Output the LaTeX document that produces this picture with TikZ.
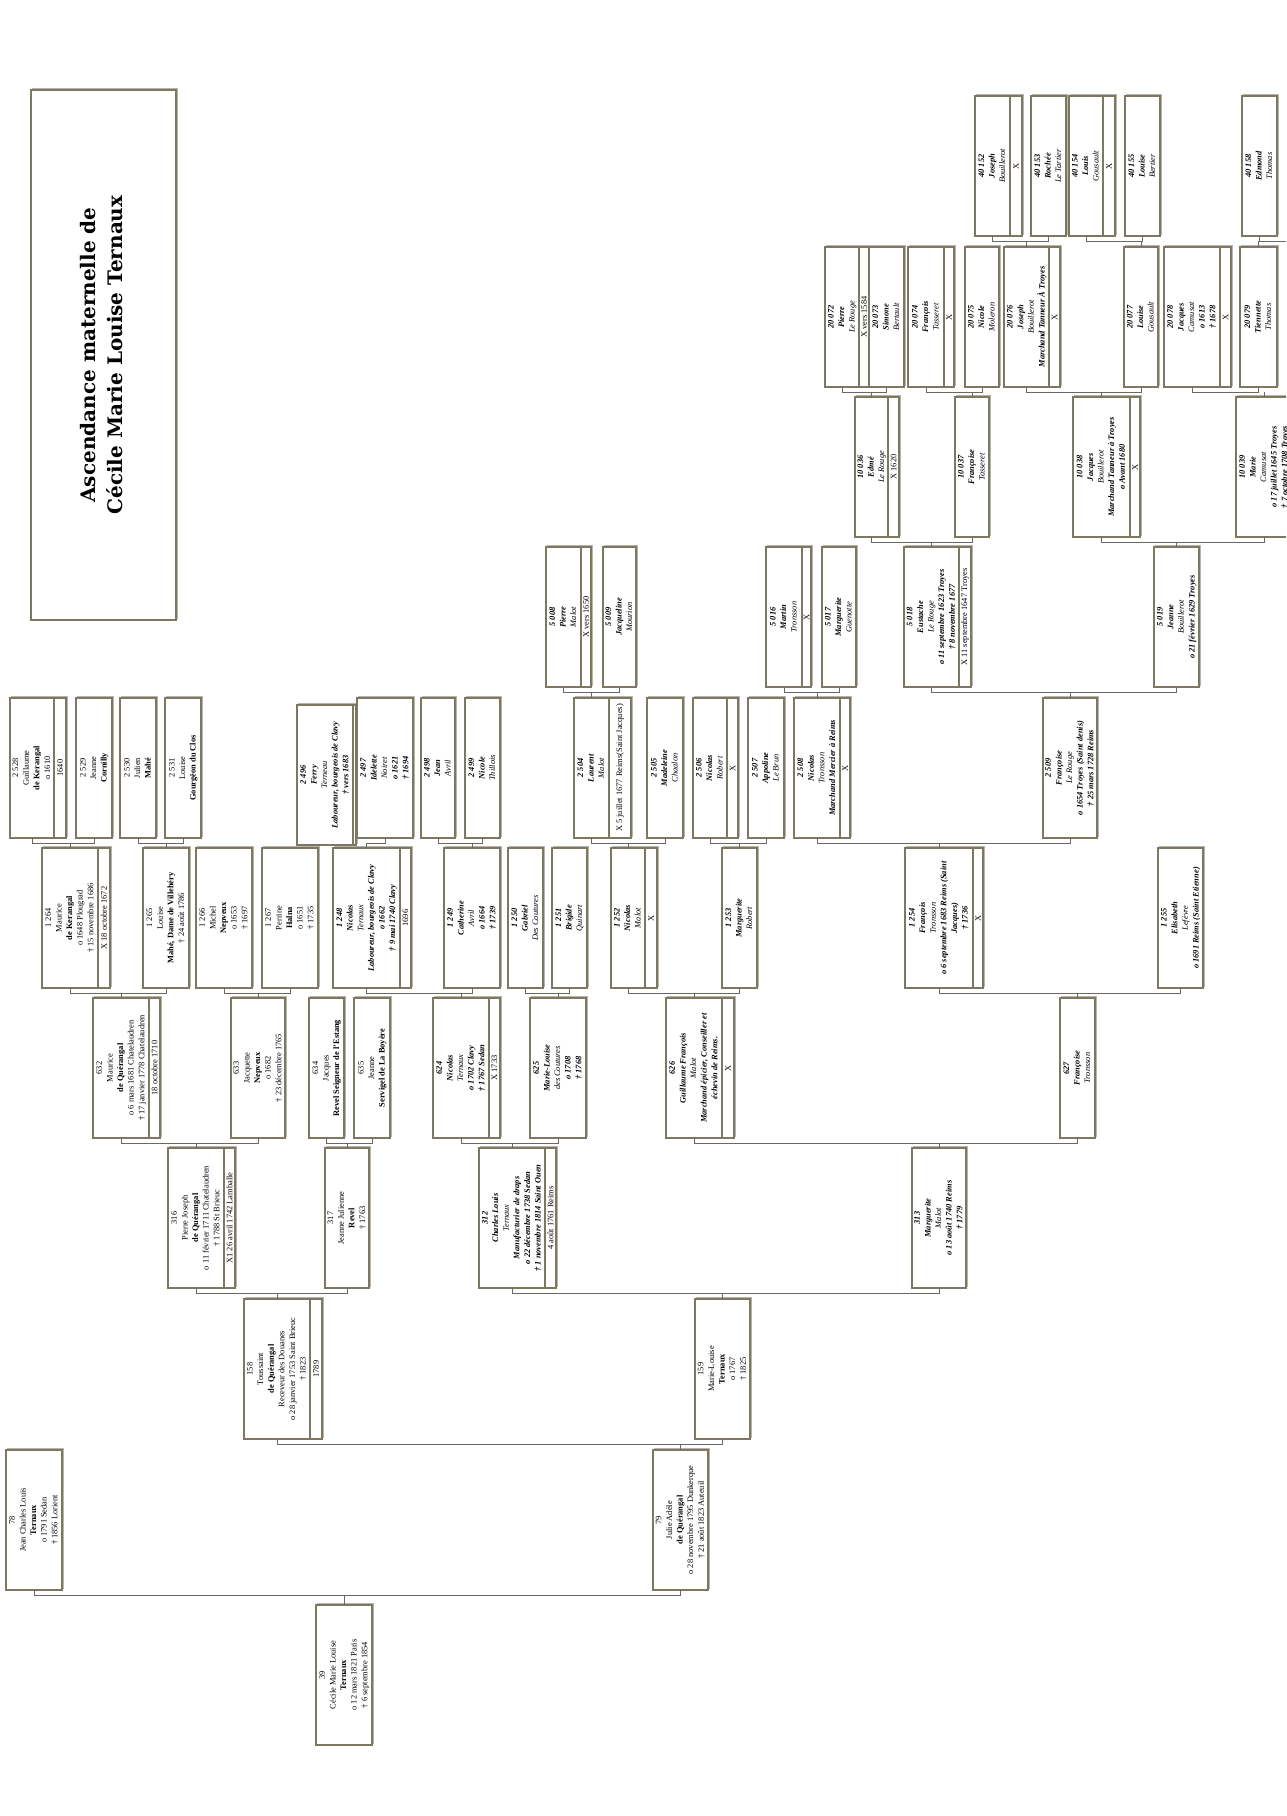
\documentclass[tikz,border=0pt]{standalone}
\usepackage{fontspec}
\usepackage{graphicx}
\setmainfont{Liberation Serif}
\newfontfamily\titlefont{DejaVu Serif}
\usetikzlibrary{shadows}
\definecolor{boxc}{RGB}{125,120,98}
\definecolor{linec}{RGB}{105,105,98}
\newcommand\pbi[1]{\textbf{\textit{#1}}}
\newcommand\pit[1]{\textit{#1}}
\newcommand\pbf[1]{\textbf{#1}}
\tikzset{
  pbox/.style={draw=boxc, line width=1.2pt, fill=white, inner sep=0pt, outer sep=0pt,
    anchor=north west, font=\fontsize{8.4}{10.6}\selectfont,
    general shadow={shadow xshift=1.6pt, shadow yshift=1.6pt, draw=boxc!55, fill=white, line width=0.8pt}},
  conn/.style={draw=linec, line width=1pt},
}
% name, x1, x2, ytop, lines
\newcommand\person[5]{%
  \node[pbox, minimum width={(#3)-(#2)}, minimum height=140] (#1) at (#2,#4)
    {\rotatebox{90}{\begin{tabular}{@{}c@{}}#5\end{tabular}}};}
% name, width, text
\newcommand\marr[3]{%
  \node[pbox, minimum width=#2, minimum height=140] (#1m) at (#1.north east)
    {\rotatebox{90}{#3}};}
% father, mother, child
\newcommand\famline[3]{%
  \path (#2.south) ++(0,5) coordinate (#3-br);
  \draw[conn] (#1.south) -- (#1.south |- #3-br) -- (#2.south |- #3-br) -- (#2.south);
  \draw[conn] (#3.north) -- (#3.north |- #3-br);}
\begin{document}
\begin{tikzpicture}[x=1pt,y=-1pt]
\useasboundingbox (0,0) rectangle (1286,1816);
\fill[white] (0,0) rectangle (1286,1816);
\clip (0,0) rectangle (1286,1816);

% title
\node[pbox, minimum width=145, minimum height=530] (title) at (31,90)
  {\rotatebox{90}{\titlefont\bfseries\fontsize{20}{27}\selectfont
   \begin{tabular}{@{}c@{}}Ascendance maternelle de\\Cécile Marie Louise Ternaux\end{tabular}}};

% ---------- Row A
\person{p40152}{975}{1010}{96}{\pbi{40 152}\\\pbi{Joseph}\\\pit{Bouillerot}}
\marr{p40152}{12}{X}
\person{p40153}{1031}{1066}{96}{\pbi{40 153}\\\pbi{Rochée}\\\pit{Le Tartier}}
\person{p40154}{1069}{1103}{96}{\pbi{40 154}\\\pbi{Louis}\\\pit{Gousault}}
\marr{p40154}{12}{X}
\person{p40155}{1125}{1160}{96}{\pbi{40 155}\\\pbi{Louise}\\\pit{Bertier}}
\person{p40158}{1242}{1277}{96}{\pbi{40 158}\\\pbi{Edmond}\\\pit{Thomas}}

% ---------- Row B
\person{p20072}{825}{859}{247}{\pbi{20 072}\\\pbi{Pierre}\\\pit{Le Rouge}}
\marr{p20072}{10}{X vers 1584}
\person{p20073}{869}{904}{247}{\pbi{20 073}\\\pbi{Simone}\\\pit{Bertault}}
\person{p20074}{908}{944}{247}{\pbi{20 074}\\\pbi{François}\\\pit{Tasseret}}
\marr{p20074}{10}{X}
\person{p20075}{965}{999}{247}{\pbi{20 075}\\\pbi{Nicole}\\\pit{Moleron}}
\person{p20076}{1004}{1049}{247}{\pbi{20 076}\\\pbi{Joseph}\\\pit{Bouillerot}\\\pbi{Marchand Tanneur À Troyes}}
\marr{p20076}{11}{X}
\person{p20077}{1124}{1158}{247}{\pbi{20 077}\\\pbi{Louise}\\\pit{Gousault}}
\person{p20078}{1164}{1220}{247}{\pbi{20 078}\\\pbi{Jacques}\\\pit{Camusat}\\\pbi{o 1613}\\\pbi{† 1678}}
\marr{p20078}{11}{X}
\person{p20079}{1240}{1277}{247}{\pbi{20 079}\\\pbi{Tiennette}\\\pit{Thomas}}

% ---------- Row C
\person{p10036}{855}{888}{397}{\pbi{10 036}\\\pbi{Edmé}\\\pit{Le Rouge}}
\marr{p10036}{11}{X 1620}
\person{p10037}{955}{989}{397}{\pbi{10 037}\\\pbi{Françoise}\\\pit{Tasseret}}
\person{p10038}{1073}{1130}{397}{\pbi{10 038}\\\pbi{Jacques}\\\pit{Bouillerot}\\\pbi{Marchand Tanneur à Troyes}\\\pbi{o Avant 1680}}
\marr{p10038}{10}{X}
\person{p10039}{1236}{1292}{397}{\pbi{10 039}\\\pbi{Marie}\\\pit{Camusat}\\\pbi{o 17 juillet 1645 Troyes}\\\pbi{† 7 octobre 1708 Troyes}}

% ---------- Row D
\person{p5008}{546}{581}{547}{\pbi{5 008}\\\pbi{Pierre}\\\pit{Malot}}
\marr{p5008}{10}{X vers 1650}
\person{p5009}{603}{636}{547}{\pbi{5 009}\\\pbi{Jacqueline}\\\pit{Mourion}}
\person{p5016}{766}{802}{547}{\pbi{5 016}\\\pbi{Martin}\\\pit{Tronsson}}
\marr{p5016}{9}{X}
\person{p5017}{822}{856}{547}{\pbi{5 017}\\\pbi{Marguerite}\\\pit{Guenotte}}
\person{p5018}{904}{959}{547}{\pbi{5 018}\\\pbi{Eustache}\\\pit{Le Rouge}\\\pbi{o 11 septembre 1623 Troyes}\\\pbi{† 8 novembre 1677}}
\marr{p5018}{12}{X 11 septembre 1647 Troyes}
\person{p5019}{1154}{1199}{547}{\pbi{5 019}\\\pbi{Jeanne}\\\pit{Bouillerot}\\\pbi{o 21 février 1629 Troyes}}

% ---------- Row E
\person{p2528}{10}{54}{698}{2 528\\Guillaume\\\pbf{de Kerangal}\\o 1610}
\marr{p2528}{12}{1640}
\person{p2529}{76}{112}{698}{2 529\\Jeanne\\\pbf{Cornilly}}
\person{p2530}{120}{156}{698}{2 530\\Julien\\\pbf{Mahé}}
\person{p2531}{165}{201}{698}{2 531\\Louise\\\pbf{Gourgëon du Clos}}
\person{p2496}{297}{353}{705}{\pbi{2 496}\\\pbi{Ferry}\\\pit{Terneau}\\\pbi{Laboureur, bourgeois de Clavy}\\\pbi{† vers 1683}}
\marr{p2496}{3}{}
\person{p2497}{357}{413}{698}{\pbi{2 497}\\\pbi{Idelette}\\\pit{Noiret}\\\pbi{o 1621}\\\pbi{† 1694}}
\person{p2498}{421}{455}{698}{\pbi{2 498}\\\pbi{Jean}\\\pit{Avril}}
\person{p2499}{465}{500}{698}{\pbi{2 499}\\\pbi{Nicole}\\\pit{Thillois}}
\person{p2504}{574}{609}{698}{\pbi{2 504}\\\pbi{Laurent}\\\pit{Malot}}
\marr{p2504}{22}{X 5 juillet 1677 Reims(Saint Jacques)}
\person{p2505}{647}{683}{698}{\pbi{2 505}\\\pbi{Madeleine}\\\pit{Chaalon}}
\person{p2506}{693}{727}{698}{\pbi{2 506}\\\pbi{Nicolas}\\\pit{Robert}}
\marr{p2506}{11}{X}
\person{p2507}{748}{784}{698}{\pbi{2 507}\\\pbi{Appoline}\\\pit{Le Brun}}
\person{p2508}{794}{840}{698}{\pbi{2 508}\\\pbi{Nicolas}\\\pit{Tronsson}\\\pbi{Marchand Mercier à Reims}}
\marr{p2508}{10}{X}
\person{p2509}{1043}{1097}{698}{\pbi{2 509}\\\pbi{Françoise}\\\pit{Le Rouge}\\\pbi{o 1654 Troyes (Saint denis)}\\\pbi{† 25 mars 1728 Reims}}

% ---------- Row F
\person{p1264}{42}{98}{848}{1 264\\Maurice\\\pbf{de Kerangal}\\o 1648 Plougrad\\† 15 novembre 1686}
\marr{p1264}{12}{X 18 octobre 1672}
\person{p1265}{143}{189}{848}{1 265\\Louise\\\pbf{Mahé, Dame de Villehéry}\\† 24 août 1786}
\person{p1266}{196}{252}{848}{1 266\\Michel\\\pbf{Nepveux}\\o 1653\\† 1697}
\person{p1267}{262}{318}{848}{1 267\\Perrine\\\pbf{Halna}\\o 1651\\† 1735}
\person{p1248}{333}{400}{848}{\pbi{1 248}\\\pbi{Nicolas}\\\pit{Ternaux}\\\pbi{Laboureur, bourgeois de Clavy}\\\pbi{o 1662}\\\pbi{† 9 mai 1740 Clavy}}
\marr{p1248}{11}{1696}
\person{p1249}{444}{500}{848}{\pbi{1 249}\\\pbi{Catherine}\\\pit{Avril}\\\pbi{o 1664}\\\pbi{† 1739}}
\person{p1250}{508}{543}{848}{\pbi{1 250}\\\pbi{Gabriel}\\\pit{Des Coutures}}
\person{p1251}{552}{587}{848}{\pbi{1 251}\\\pbi{Brigide}\\\pit{Quinart}}
\person{p1252}{611}{645}{848}{\pbi{1 252}\\\pbi{Nicolas}\\\pit{Malot}}
\marr{p1252}{12}{X}
\person{p1253}{722}{757}{848}{\pbi{1 253}\\\pbi{Marguerite}\\\pit{Robert}}
\person{p1254}{905}{973}{848}{\pbi{1 254}\\\pbi{François}\\\pit{Tronsson}\\\pbi{o 6 septembre 1683 Reims (Saint}\\\pbi{Jacques)}\\\pbi{† 1736}}
\marr{p1254}{10}{X}
\person{p1255}{1158}{1203}{848}{\pbi{1 255}\\\pbi{Elisabeth}\\\pit{Lefèvre}\\\pbi{o 1691 Reims (Saint Etienne)}}

% ---------- Row G
\person{p632}{93}{149}{998}{632\\Maurice\\\pbf{de Quérangal}\\o 6 mars 1681 Chatelaudren\\† 17 janvier 1778 Chatelaudren}
\marr{p632}{11}{18 octobre 1710}
\person{p633}{231}{285}{998}{633\\Jacquette\\\pbf{Nepveux}\\o 1682\\† 23 décembre 1765}
\person{p634}{309}{344}{998}{634\\Jacques\\\pbf{Revel Seigneur de l'Estang}}
\person{p635}{354}{390}{998}{635\\Jeanne\\\pbf{Servigel de La Boyère}}
\person{p624}{433}{489}{998}{\pbi{624}\\\pbi{Nicolas}\\\pit{Ternaux}\\\pbi{o 1702 Clavy}\\\pbi{† 1767 Sedan}}
\marr{p624}{11}{X 1733}
\person{p625}{530}{586}{998}{\pbi{625}\\\pbi{Marie-Louise}\\\pit{des Coutures}\\\pbi{o 1708}\\\pbi{† 1768}}
\person{p626}{666}{722}{998}{\pbi{626}\\\pbi{Guillaume François}\\\pit{Malot}\\\pbi{Marchand épicier, Conseiller et}\\\pbi{échevin de Reims.}}
\marr{p626}{12}{X}
\person{p627}{1060}{1095}{998}{\pbi{627}\\\pbi{Françoise}\\\pit{Tronsson}}

% ---------- Row H
\person{p316}{168}{224}{1148}{316\\Pierre Joseph\\\pbf{de Quérangal}\\o 11 février 1711 Chatelaudren\\† 1788 St Brieuc}
\marr{p316}{11}{X1 26 avril 1742 Lamballe}
\person{p317}{325}{369}{1148}{317\\Jeanne Julienne\\\pbf{Revel}\\† 1763}
\person{p312}{479}{545}{1148}{\pbi{312}\\\pbi{Charles Louis}\\\pit{Ternaux}\\\pbi{Manufacturier de draps}\\\pbi{o 22 décembre 1738 Sedan}\\\pbi{† 1 novembre 1814 Saint Ouen}}
\marr{p312}{11}{4 août 1761 Reims}
\person{p313}{912}{966}{1148}{\pbi{313}\\\pbi{Marguerite}\\\pit{Malot}\\\pbi{o 13 août 1740 Reims}\\\pbi{† 1779}}

% ---------- Row I
\person{p158}{244}{310}{1299}{158\\Toussaint\\\pbf{de Quérangal}\\Receveur des Douanes\\o 28 janvier 1753 Saint Brieuc\\† 1823}
\marr{p158}{12}{1789}
\person{p159}{695}{750}{1299}{159\\Marie-Louise\\\pbf{Ternaux}\\o 1767\\† 1825}

% ---------- Row J
\person{p78}{6}{62}{1450}{78\\Jean Charles Louis\\\pbf{Ternaux}\\o 1791 Sedan\\† 1856 Lorient}
\person{p79}{653}{708}{1450}{79\\Julie Adèle\\\pbf{de Quérangal}\\o 28 novembre 1795 Dunkerque\\† 21 août 1823 Auteuil}

% ---------- Row K
\person{p39}{316}{372}{1605}{39\\Cécile Marie Louise\\\pbf{Ternaux}\\o 12 mars 1821 Paris\\† 6 septembre 1854}

% ---------- connectors
\famline{p40152}{p40153}{p20076}
\famline{p40154}{p40155}{p20077}
\coordinate (e40159) at (1290,241);
\draw[conn] (p40158.south) -- (p40158.south |- e40159) -- (e40159);
\draw[conn] (p20079.north) -- (p20079.north |- e40159);

\famline{p20072}{p20073}{p10036}
\famline{p20074}{p20075}{p10037}
\famline{p20076}{p20077}{p10038}
\famline{p20078}{p20079}{p10039}

\famline{p10036}{p10037}{p5018}
\famline{p10038}{p10039}{p5019}

\famline{p5008}{p5009}{p2504}
\famline{p5016}{p5017}{p2508}
\famline{p5018}{p5019}{p2509}

\famline{p2528}{p2529}{p1264}
\famline{p2530}{p2531}{p1265}
% Ferry (2496) sits lower: only the child-to-mother part of the bracket shows
\path (p2497.south) ++(0,5) coordinate (p1248-br);
\draw[conn] (p1248.north) -- (p1248.north |- p1248-br) -- (p2497.south |- p1248-br) -- (p2497.south);
\famline{p2498}{p2499}{p1249}
\famline{p2504}{p2505}{p1252}
\famline{p2506}{p2507}{p1253}
\famline{p2508}{p2509}{p1254}

\famline{p1264}{p1265}{p632}
\famline{p1266}{p1267}{p633}
\famline{p1248}{p1249}{p624}
\famline{p1250}{p1251}{p625}
\famline{p1252}{p1253}{p626}
\famline{p1254}{p1255}{p627}

\famline{p632}{p633}{p316}
\famline{p634}{p635}{p317}
\famline{p624}{p625}{p312}
\famline{p626}{p627}{p313}

\famline{p316}{p317}{p158}
\famline{p312}{p313}{p159}

\famline{p158}{p159}{p79}

\famline{p78}{p79}{p39}
\end{tikzpicture}
\end{document}
